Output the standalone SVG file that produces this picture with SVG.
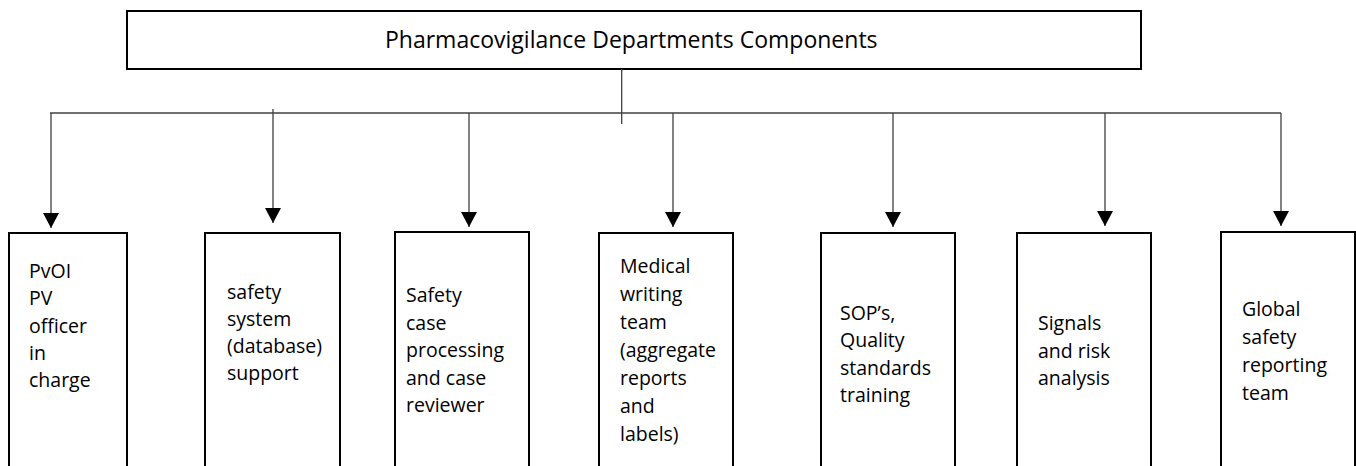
<svg xmlns="http://www.w3.org/2000/svg" width="1356" height="466" viewBox="0 0 1356 466">
<style>
.box{fill:#fff;stroke:#000;stroke-width:2}
.conn{fill:none;stroke:#404040;stroke-width:1.3}
.t{font-family:"Open Sans","Liberation Sans",sans-serif;font-size:19.5px;fill:#000}
.h{font-family:"Open Sans","Liberation Sans",sans-serif;font-size:23px;fill:#000}
</style>
<defs>
<marker id="arr" markerUnits="userSpaceOnUse" markerWidth="16" markerHeight="16" refX="15" refY="8" orient="auto" viewBox="0 0 15 16">
<path d="M0,0 L15,8 L0,16 Z" fill="#000"/>
</marker>
</defs>
<rect width="1356" height="466" fill="#fff"/>
<g id="root">
<rect class="box" x="127" y="11" width="1014" height="58"/>
<text class="h" x="385" y="48">Pharmacovigilance Departments Components</text>
</g>
<g id="connectors">
<path class="conn" d="M621.7,69 V124"/>
<path class="conn" d="M50,113 H1281"/>
<path class="conn" d="M51,113 V228" marker-end="url(#arr)"/>
<path class="conn" d="M273,109 V223" marker-end="url(#arr)"/>
<path class="conn" d="M469,113 V227" marker-end="url(#arr)"/>
<path class="conn" d="M673,113 V227" marker-end="url(#arr)"/>
<path class="conn" d="M893,113 V227" marker-end="url(#arr)"/>
<path class="conn" d="M1105,113 V226" marker-end="url(#arr)"/>
<path class="conn" d="M1281,113 V226" marker-end="url(#arr)"/>
</g>
<g id="n1">
<rect class="box" x="9" y="233" width="118" height="245"/>
<text class="t"><tspan x="29" y="278">PvOI</tspan><tspan x="29" y="305.3">PV</tspan><tspan x="29" y="332.6">officer</tspan><tspan x="29" y="359.9">in</tspan><tspan x="29" y="387.2">charge</tspan></text>
</g>
<g id="n2">
<rect class="box" x="205" y="233" width="135" height="245"/>
<text class="t"><tspan x="227" y="298.5">safety</tspan><tspan x="227" y="325.8">system</tspan><tspan x="227" y="353.1">(database)</tspan><tspan x="227" y="380.4">support</tspan></text>
</g>
<g id="n3">
<rect class="box" x="395" y="232" width="134" height="246"/>
<text class="t"><tspan x="406" y="302">Safety</tspan><tspan x="406" y="329.5">case</tspan><tspan x="406" y="357">processing</tspan><tspan x="406" y="384.5">and case</tspan><tspan x="406" y="412">reviewer</tspan></text>
</g>
<g id="n4">
<rect class="box" x="599" y="233" width="134" height="245"/>
<text class="t"><tspan x="620" y="273">Medical</tspan><tspan x="620" y="301">writing</tspan><tspan x="620" y="329">team</tspan><tspan x="620" y="357">(aggregate</tspan><tspan x="620" y="385">reports</tspan><tspan x="620" y="413">and</tspan><tspan x="620" y="441">labels)</tspan></text>
</g>
<g id="n5">
<rect class="box" x="821" y="233" width="134" height="245"/>
<text class="t"><tspan x="840" y="320">SOP’s,</tspan><tspan x="840" y="347.3">Quality</tspan><tspan x="840" y="374.6">standards</tspan><tspan x="840" y="401.9">training</tspan></text>
</g>
<g id="n6">
<rect class="box" x="1017" y="233" width="134" height="245"/>
<text class="t"><tspan x="1038" y="330">Signals</tspan><tspan x="1038" y="357.5">and risk</tspan><tspan x="1038" y="385">analysis</tspan></text>
</g>
<g id="n7">
<rect class="box" x="1221" y="232" width="134" height="246"/>
<text class="t"><tspan x="1242" y="316">Global</tspan><tspan x="1242" y="344">safety</tspan><tspan x="1242" y="372">reporting</tspan><tspan x="1242" y="400">team</tspan></text>
</g>
</svg>
